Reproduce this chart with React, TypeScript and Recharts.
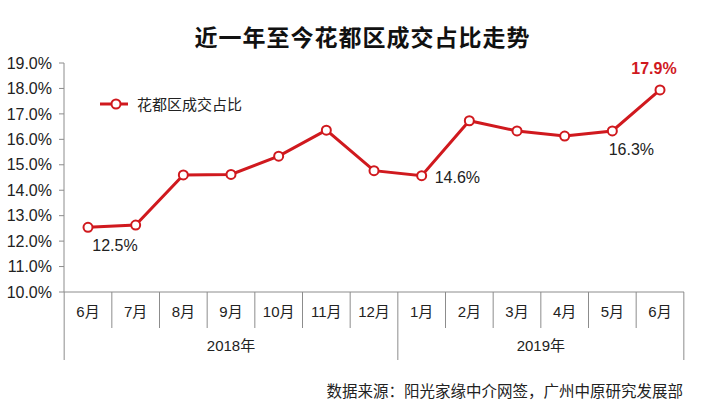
import { LineChart, Line, XAxis, YAxis, LabelList } from 'recharts';

const months = ['6月', '7月', '8月', '9月', '10月', '11月', '12月', '1月', '2月', '3月', '4月', '5月', '6月'];
const years = ['2018年', '2018年', '2018年', '2018年', '2018年', '2018年', '2018年', '2019年', '2019年', '2019年', '2019年', '2019年', '2019年'];
const share = [12.54, 12.63, 14.6, 14.62, 15.34, 16.36, 14.77, 14.57, 16.73, 16.33, 16.13, 16.33, 17.94];
const yTicks = [10, 11, 12, 13, 14, 15, 16, 17, 18, 19];
const labelled = [0, 7, 11, 12];
const seriesName = '花都区成交占比';

const RED = '#d0191e';
const AXIS = '#8c8c8c';
const FONT = '"Liberation Sans", Arial, "Noto Sans CJK SC", sans-serif';

const W = 725;
const H = 411;
const M = { top: 63, right: 41, bottom: 50, left: 0 };
const Y_W = 64;
const PAD = 24;
const X_H = 69;
const step = (W - M.left - M.right - Y_W - PAD * 2) / (months.length - 1);

const data = months.map((m, i) => ({ month: m, year: years[i], share: share[i] }));

// year groups: [first idx, last idx]
const groups: { name: string; start: number; end: number }[] = [];
years.forEach((y, i) => {
  const g = groups[groups.length - 1];
  if (g && g.name === y) g.end = i;
  else groups.push({ name: y, start: i, end: i });
});

function MonthTick(props: any) {
  const { x, y, payload, index } = props;
  const half = step / 2;
  const isGroupEnd = groups.some(g => g.end === index);
  const els: any[] = [];
  if (index === 0) {
    els.push(<line key="l0" x1={x - half} x2={x - half} y1={y} y2={y + 68} stroke={AXIS} />);
  }
  els.push(
    <line key="r" x1={x + half} x2={x + half} y1={y} y2={y + (isGroupEnd ? 68 : 36)} stroke={AXIS} />
  );
  els.push(
    <text key="t" x={x} y={y + 19} textAnchor="middle" dominantBaseline="central" fontSize={15} fill="#222" fontFamily={FONT}>
      {payload.value}
    </text>
  );
  groups.forEach(g => {
    const mid = (g.start + g.end) / 2;
    if (Math.floor(mid) === index) {
      els.push(
        <text key={g.name} x={x + (mid - index) * step} y={y + 53} textAnchor="middle" dominantBaseline="central" fontSize={15} fill="#222" fontFamily={FONT}>
          {g.name}
        </text>
      );
    }
  });
  return <g>{els}</g>;
}

function PointLabel(props: any) {
  const { x, y, value, index } = props;
  if (!labelled.includes(index)) return null;
  const v = `${Number(value).toFixed(1)}%`;
  if (index === share.length - 1) {
    return (
      <text x={x - 6} y={y - 16} textAnchor="middle" fontSize={16} fontWeight="bold" fill={RED} fontFamily={FONT}>
        {v}
      </text>
    );
  }
  if (index === 7) {
    return (
      <text x={x + 13} y={y + 7} textAnchor="start" fontSize={16} fill="#222" fontFamily={FONT}>
        {v}
      </text>
    );
  }
  const dx = index === 0 ? 27 : 19;
  return (
    <text x={x + dx} y={y + 24} textAnchor="middle" fontSize={16} fill="#222" fontFamily={FONT}>
      {v}
    </text>
  );
}

export default function App() {
  return (
    <div style={{ position: 'absolute', left: 0, top: 0, width: W, height: H, background: '#fff', fontFamily: FONT }}>
      <div style={{ position: 'absolute', left: 0, width: W, top: 19, textAlign: 'center', fontSize: 23, fontWeight: 'bold', color: '#111', letterSpacing: 1 }}>
        近一年至今花都区成交占比走势
      </div>
      <LineChart width={W} height={H} data={data} margin={M}>
        <XAxis
          dataKey="month"
          interval={0}
          height={X_H}
          padding={{ left: PAD, right: PAD }}
          tickLine={false}
          tickSize={0}
          tickMargin={0}
          axisLine={{ stroke: AXIS }}
          tick={<MonthTick />}
        />
        <YAxis
          width={Y_W}
          domain={[10, 19]}
          ticks={yTicks}
          interval={0}
          tickSize={5}
          tickMargin={7}
          axisLine={{ stroke: AXIS }}
          tickLine={{ stroke: AXIS }}
          tickFormatter={(v: number) => `${v.toFixed(1)}%`}
          tick={{ fontSize: 16, fill: '#222', fontFamily: FONT }}
        />
        <Line
          type="linear"
          dataKey="share"
          name={seriesName}
          stroke={RED}
          strokeWidth={3}
          dot={{ r: 4.5, fill: '#fff', stroke: RED, strokeWidth: 2 }}
          activeDot={false}
          isAnimationActive={false}
        >
          <LabelList dataKey="share" content={<PointLabel />} />
        </Line>
      </LineChart>
      <svg width={170} height={20} style={{ position: 'absolute', left: 100, top: 94 }}>
        <line x1={0} x2={28} y1={10} y2={10} stroke={RED} strokeWidth={3} />
        <circle cx={16} cy={10} r={4.5} fill="#fff" stroke={RED} strokeWidth={2} />
        <text x={37} y={15.5} fontSize={15} fill="#222" fontFamily={FONT}>{seriesName}</text>
      </svg>
      <div style={{ position: 'absolute', right: 42, top: 379, fontSize: 15.5, color: '#222' }}>
        数据来源：阳光家缘中介网签，广州中原研究发展部
      </div>
    </div>
  );
}
